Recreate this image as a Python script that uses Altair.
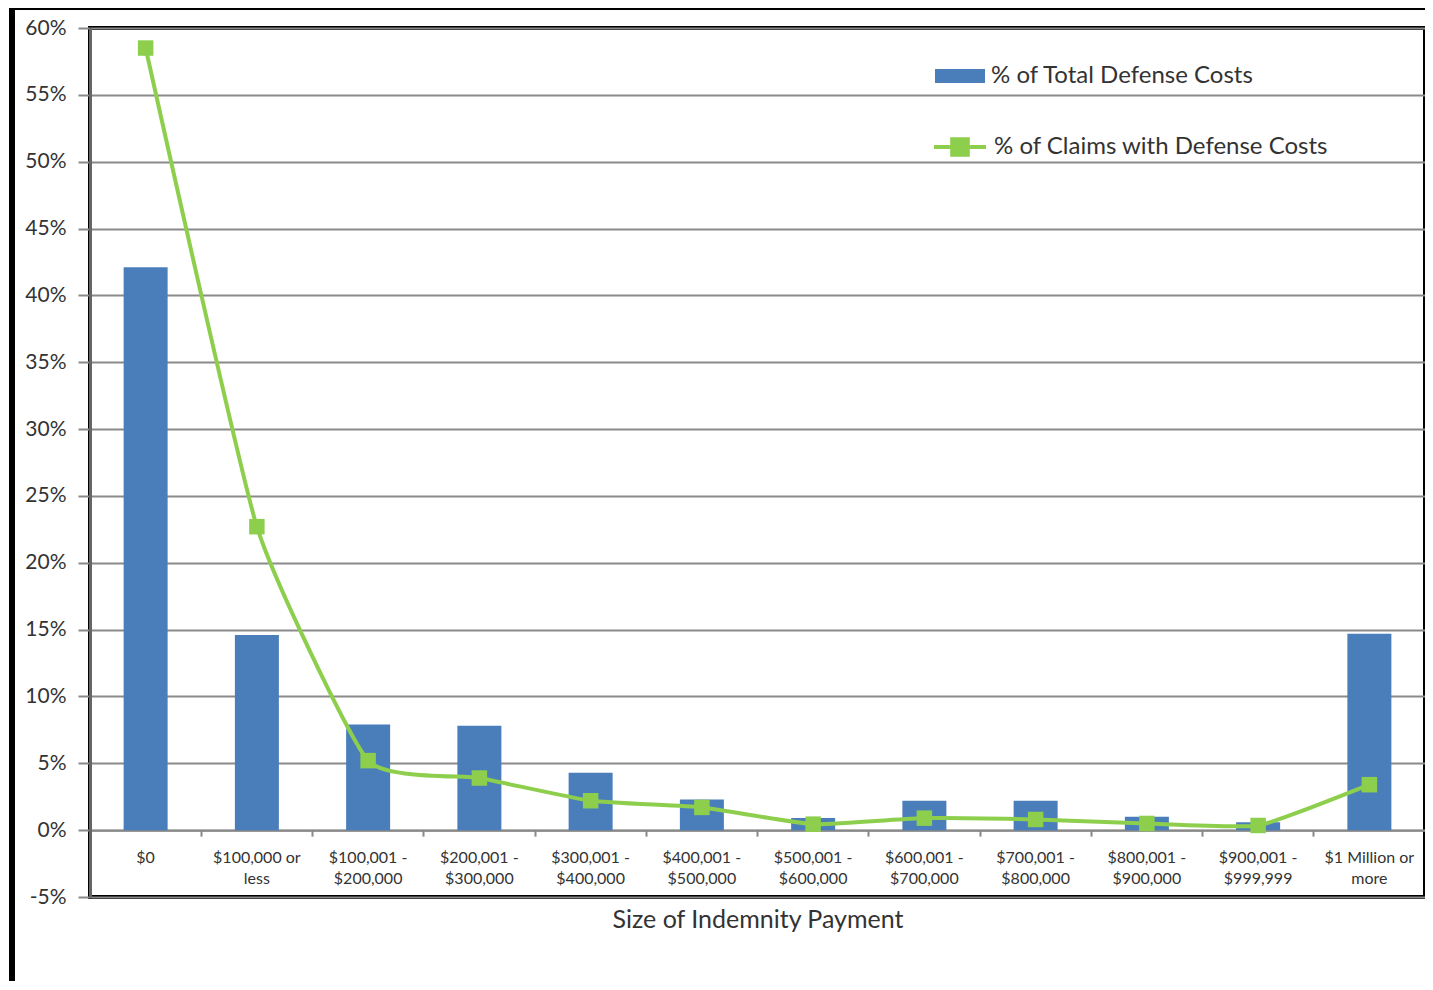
import altair as alt
import pandas as pd

categories = ["$0", "$100,000 or\nless", "$100,001 -\n$200,000", "$200,001 -\n$300,000",
              "$300,001 -\n$400,000", "$400,001 -\n$500,000", "$500,001 -\n$600,000",
              "$600,001 -\n$700,000", "$700,001 -\n$800,000", "$800,001 -\n$900,000",
              "$900,001 -\n$999,999", "$1 Million or\nmore"]
defense_costs = [42.1, 14.6, 7.9, 7.8, 4.3, 2.3, 0.9, 2.2, 2.2, 1.0, 0.6, 14.7]
claims_with_costs = [58.5, 22.7, 5.2, 3.9, 2.2, 1.7, 0.45, 0.9, 0.8, 0.5, 0.35, 3.4]
series_bar = "% of Total Defense Costs"
series_line = "% of Claims with Defense Costs"
y_ticks = [-5, 0, 5, 10, 15, 20, 25, 30, 35, 40, 45, 50, 55, 60]

bar_df = pd.DataFrame({"cat": categories, "v": defense_costs, "series": series_bar})
line_df = pd.DataFrame({"cat": categories, "v": claims_with_costs, "series": series_line})

W, H = 1335, 869
ymin, ymax = -5, 60
zero_offset = -H * (0 - ymin) / (ymax - ymin)

BLUE = "#4a7ebb"
GREEN = "#8dcf4c"
FONT = "Lato"
TXT = "#333333"

x_enc = alt.X("cat:N", sort=categories,
              scale=alt.Scale(paddingInner=0, paddingOuter=0),
              axis=alt.Axis(title="Size of Indemnity Payment", offset=zero_offset,
                            labelExpr="split(datum.value, '\\n')", labelAngle=0,
                            labelFont=FONT, labelFontSize=16, labelColor=TXT,
                            labelLineHeight=21, labelPadding=13, labelBaseline="top",
                            bandPosition=0, tickSize=6, tickColor="#888", tickWidth=2,
                            domainColor="#888", domainWidth=2,
                            titleFont=FONT, titleFontSize=25, titleFontWeight="normal",
                            titleColor=TXT, titleY=89, titleBaseline="middle"))
y_enc = alt.Y("v:Q", scale=alt.Scale(domain=[ymin, ymax], nice=False),
              axis=alt.Axis(title=None, values=y_ticks,
                            labelExpr="datum.value + '%'",
                            labelFont=FONT, labelFontSize=21, labelColor=TXT,
                            labelPadding=12, tickSize=12, tickColor="#888", tickWidth=2,
                            domainColor="#666", domainWidth=3,
                            grid=True, gridColor="#8a8a8a", gridWidth=2))

bars = alt.Chart(bar_df).mark_bar(size=44).encode(
    x=x_enc, y=y_enc,
    fill=alt.Fill("series:N", scale=alt.Scale(range=[BLUE]),
                  legend=alt.Legend(title=None, orient="none", legendX=845, legendY=23,
                                    padding=0, labelOffset=6,
                                    symbolType="M-1,-0.28L1,-0.28L1,0.28L-1,0.28Z",
                                    symbolSize=2500, symbolStrokeWidth=0,
                                    labelFont=FONT, labelFontSize=24, labelColor=TXT,
                                    labelLimit=500)),
)

line = alt.Chart(line_df).mark_line(interpolate="cardinal", tension=0.55, strokeWidth=4).encode(
    x=x_enc, y=y_enc,
    stroke=alt.Stroke("series:N", scale=alt.Scale(range=[GREEN]),
                      legend=alt.Legend(title=None, orient="none", legendX=842, legendY=91,
                                        padding=0, labelOffset=6,
                                        symbolType="M-1,0L1,0M-0.3,-0.3L0.3,-0.3L0.3,0.3L-0.3,0.3Z",
                                        symbolSize=2704, symbolStrokeWidth=4,
                                        symbolFillColor=GREEN,
                                        labelFont=FONT, labelFontSize=24, labelColor=TXT,
                                        labelLimit=500)),
)

points = alt.Chart(line_df).mark_square(size=240, color=GREEN, opacity=1).encode(
    x=x_enc, y=y_enc,
)

frame_top = alt.Chart(bar_df).mark_rule(color="black", strokeWidth=5).encode(
    x=alt.value(-78), x2=alt.value(W + 20), y=alt.value(-21))
frame_left = alt.Chart(bar_df).mark_rule(color="black", strokeWidth=5).encode(
    x=alt.value(-78), y=alt.value(-23), y2=alt.value(H + 90))

chart = alt.layer(bars, line, points, frame_top, frame_left).resolve_scale(
    fill="independent", stroke="independent"
).properties(
    width=W, height=H,
    autosize=alt.AutoSizeParams(type="none"),
    padding={"left": 82, "top": 20, "right": 0, "bottom": 84},
).configure_view(stroke="black", strokeWidth=4)

chart.save("out.html", embed_options={"renderer": "svg", "actions": False})
